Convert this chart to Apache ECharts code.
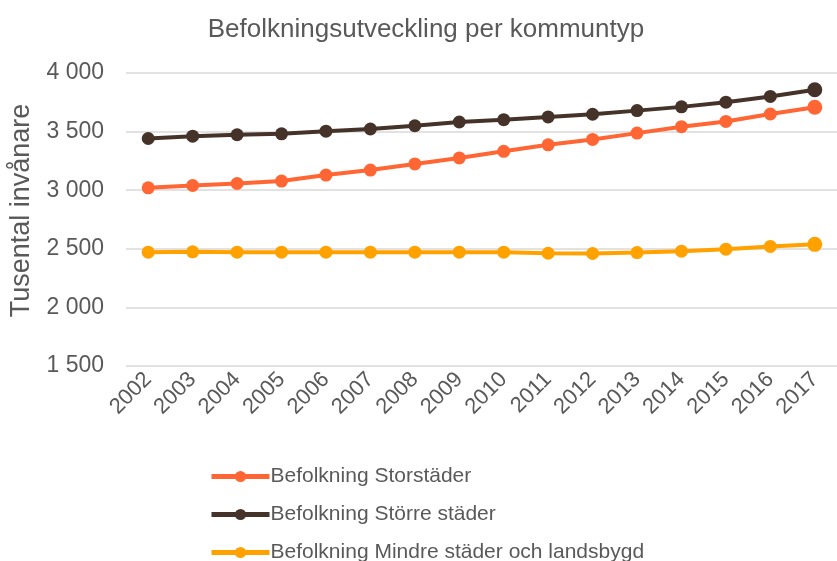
<!DOCTYPE html>
<html>
<head>
<meta charset="utf-8">
<script src="https://cdn.jsdelivr.net/npm/echarts@6/dist/echarts.min.js"></script>
<style>
  html, body { margin: 0; padding: 0; background: #fff; }
  #chart { width: 837px; height: 561px; }
</style>
</head>
<body>
<div id="chart"></div>
<script>
// år
const years = ['2002', '2003', '2004', '2005', '2006', '2007', '2008', '2009',
  '2010', '2011', '2012', '2013', '2014', '2015', '2016', '2017']

// tusental invånare
const storstader = [3020, 3040, 3057, 3078, 3129, 3172, 3224, 3275,
  3332, 3387, 3433, 3487, 3542, 3587, 3650, 3708]
const storreStader = [3441, 3461, 3473, 3481, 3504, 3522, 3550, 3582,
  3602, 3625, 3648, 3679, 3711, 3751, 3800, 3857]
const mindreStader = [2471, 2474, 2471, 2471, 2471, 2471, 2471, 2471,
  2471, 2462, 2460, 2468, 2480, 2497, 2520, 2538]

const seriesNames = ['Befolkning Storstäder', 'Befolkning Större städer',
  'Befolkning Mindre städer och landsbygd']
const colors = ['#FF6633', '#45332A', '#FFA200']

const font = 'Liberation Sans, Arial, sans-serif'
const grey = '#595959'

function lineSeries(name, data, color) {
  return {
    name: name,
    type: 'line',
    data: data,
    symbol: 'circle',
    // sista punkten är lite större i originalet
    symbolSize: (val, p) => p.dataIndex === data.length - 1 ? 15 : 13,
    lineStyle: { width: 4, color: color },
    itemStyle: { color: color },
    emphasis: { disabled: true }
  }
}

const option = {
  animation: false,
  textStyle: { fontFamily: font },
  title: {
    text: 'Befolkningsutveckling per kommuntyp',
    left: 421,
    top: 12,
    textAlign: 'center',
    textStyle: { fontSize: 26, fontWeight: 'normal', color: grey, fontFamily: font }
  },
  legend: {
    orient: 'vertical',
    left: 204,
    top: 461,
    height: 300,
    itemWidth: 58,
    itemHeight: 14,
    itemGap: 17,
    lineStyle: { width: 5 },
    textStyle: { fontSize: 21, color: grey, fontFamily: font, padding: [0, 0, 0, -4] },
    data: seriesNames
  },
  grid: {
    left: 126,
    right: 0,
    top: 73,
    bottom: 195
  },
  xAxis: {
    type: 'category',
    data: years,
    boundaryGap: true,
    axisLine: { show: false },
    axisTick: { show: false },
    axisLabel: {
      rotate: 45,
      interval: 0,
      fontSize: 22,
      color: grey,
      fontFamily: font,
      margin: 10
    }
  },
  yAxis: {
    type: 'value',
    min: 1500,
    max: 4000,
    interval: 500,
    name: 'Tusental invånare',
    nameLocation: 'middle',
    nameGap: 86,
    nameTextStyle: { fontSize: 27, color: grey, fontFamily: font, padding: [0, 0, 0, 18] },
    axisLine: { show: false },
    axisTick: { show: false },
    axisLabel: {
      fontSize: 23,
      color: grey,
      fontFamily: font,
      margin: 22,
      formatter: v => String(v).replace(/\B(?=(\d{3})+(?!\d))/g, ' ')
    },
    splitLine: { lineStyle: { color: '#D9D9D9', width: 1.5 } }
  },
  series: [
    lineSeries(seriesNames[0], storstader, colors[0]),
    lineSeries(seriesNames[1], storreStader, colors[1]),
    lineSeries(seriesNames[2], mindreStader, colors[2])
  ]
}

const chart = echarts.init(document.getElementById('chart'))
chart.setOption(option)
</script>
</body>
</html>
